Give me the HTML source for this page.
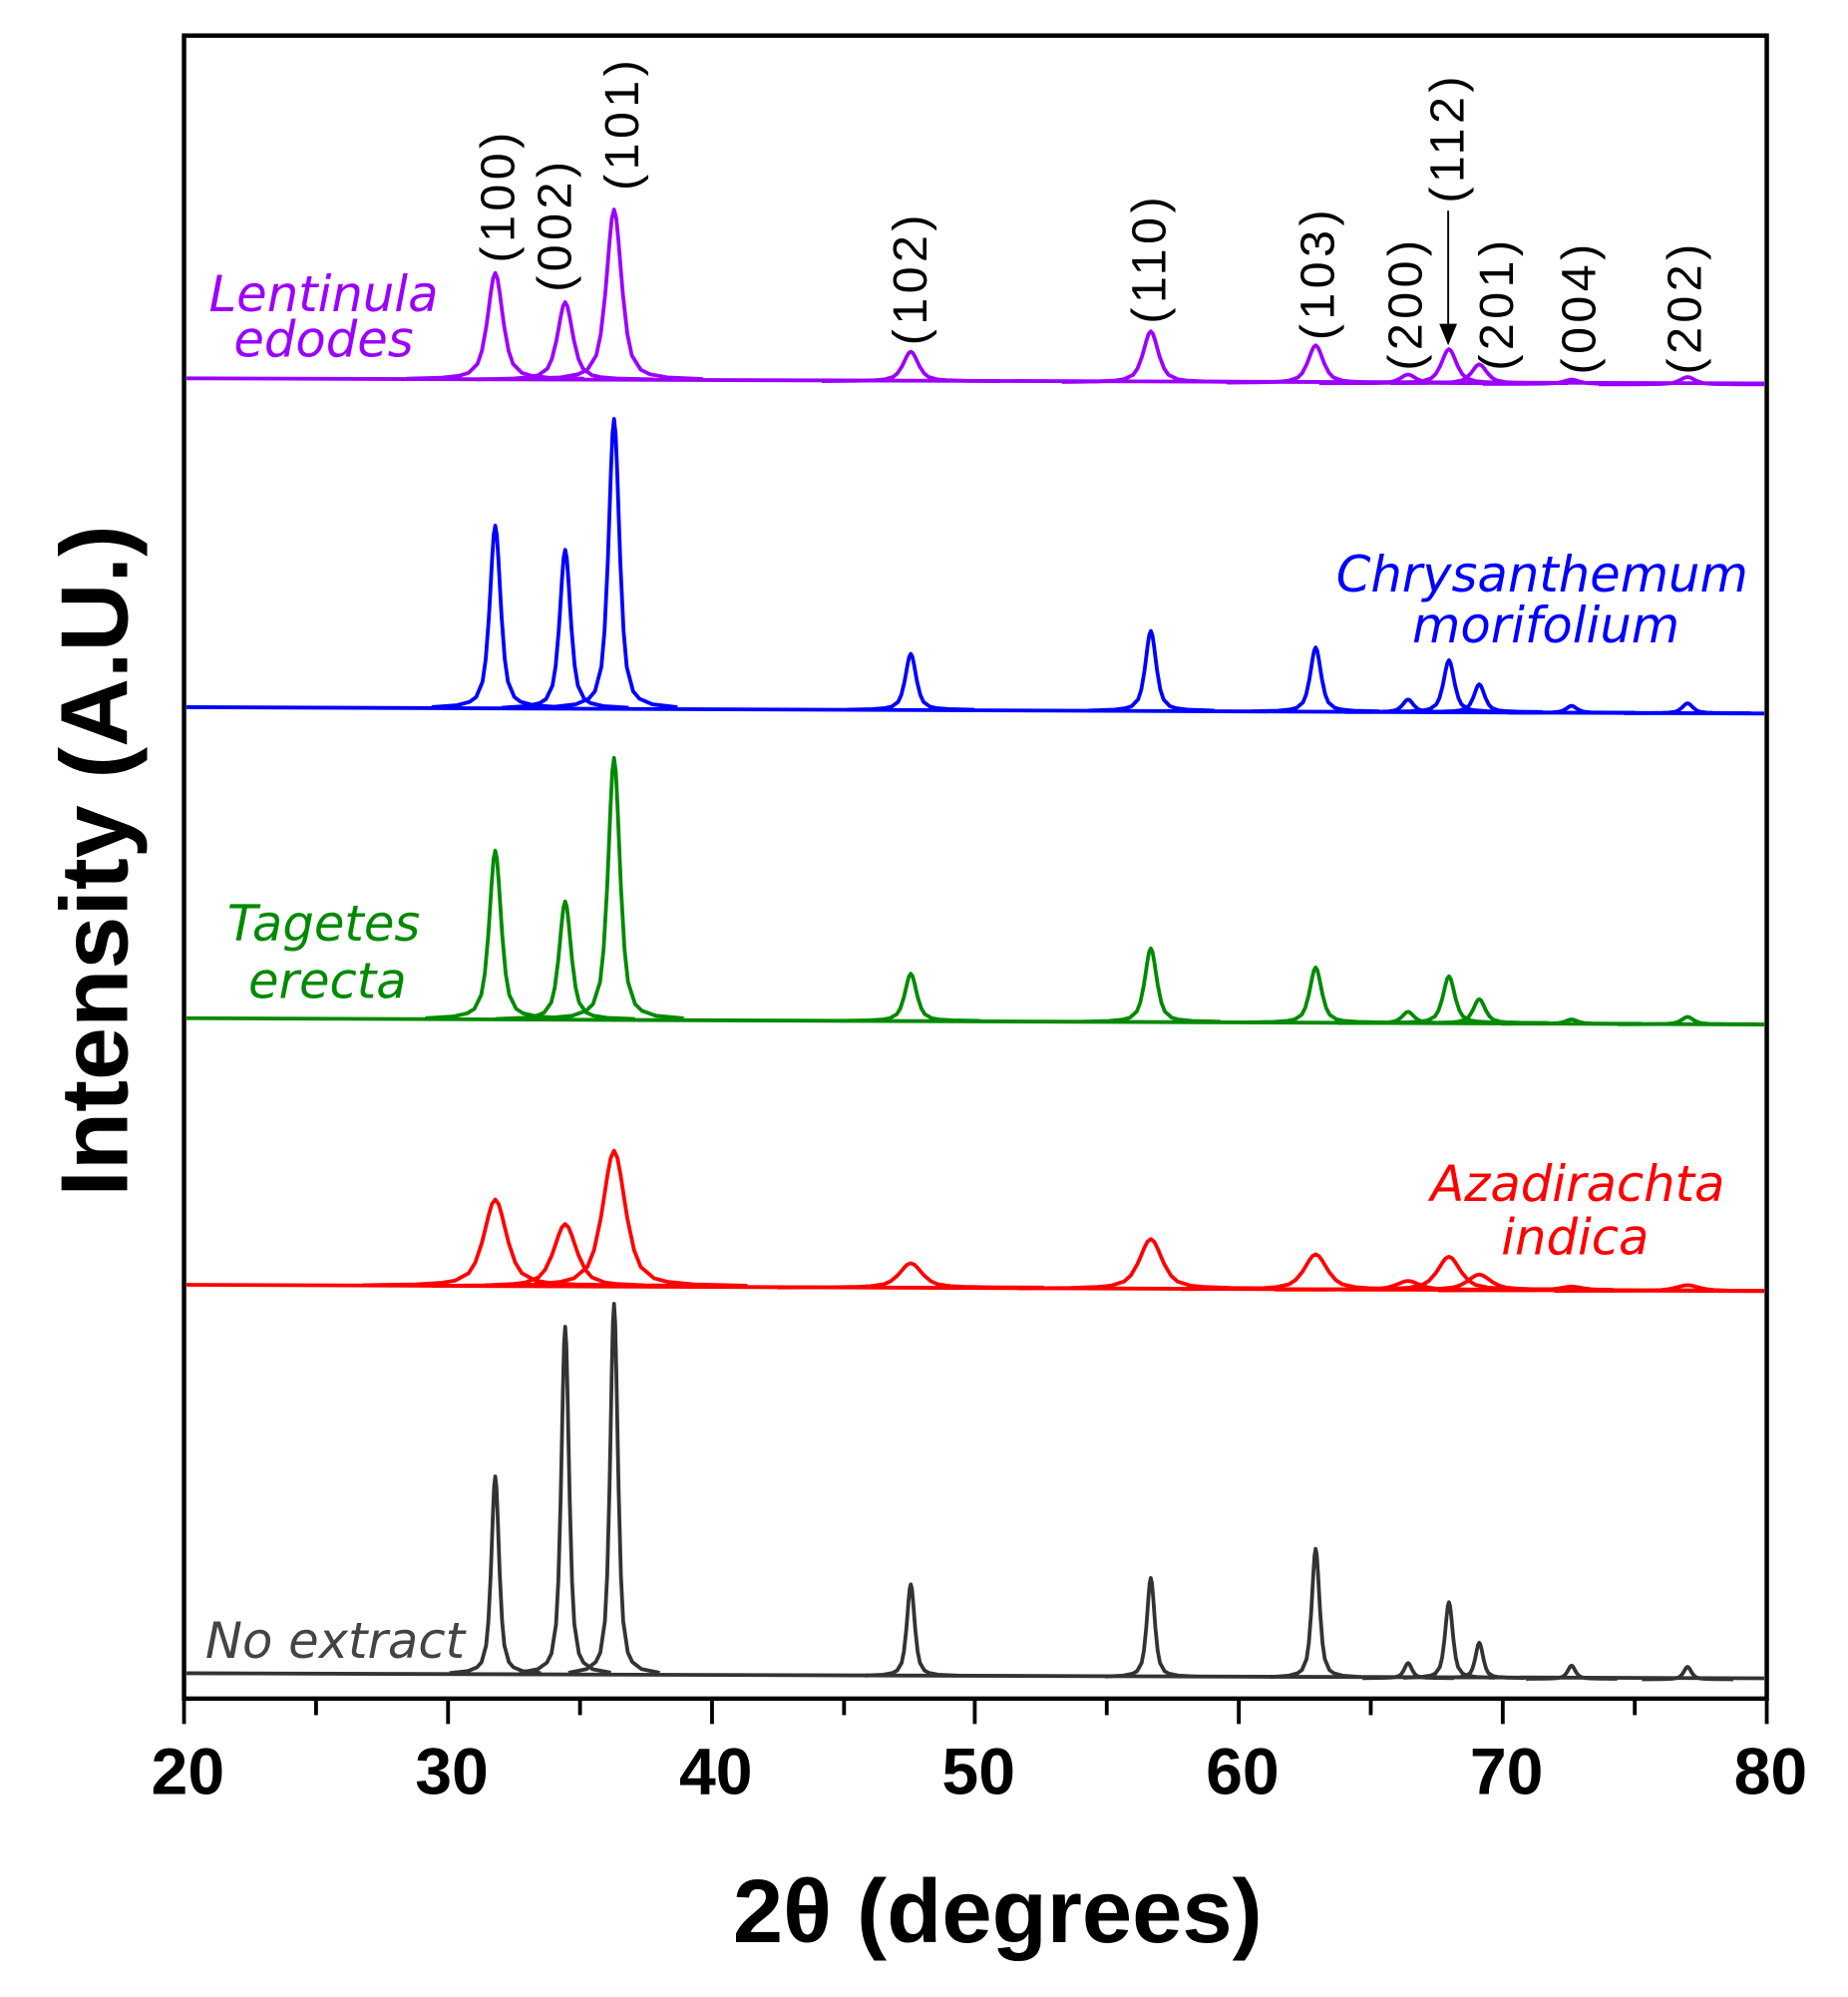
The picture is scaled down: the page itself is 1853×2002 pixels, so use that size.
<!DOCTYPE html>
<html><head><meta charset="utf-8"><style>
html,body{margin:0;padding:0;background:#fff;}
svg{display:block;}
path.p{fill:none;stroke-width:3.8;stroke-linejoin:round;}
</style></head><body>
<svg width="1853" height="2002" viewBox="0 0 1456 1573" xmlns="http://www.w3.org/2000/svg">
<defs><clipPath id="cp"><rect x="147" y="30" width="1243" height="1306"/></clipPath></defs>
<rect x="0" y="0" width="1456" height="1573" fill="#fff"/>
<g clip-path="url(#cp)">
<g fill="none" stroke-width="3">
<line x1="146" y1="298" x2="1391" y2="302" stroke="#9b00ff"/>
<line x1="146" y1="557" x2="1391" y2="562" stroke="#0000ff"/>
<line x1="146" y1="802" x2="1391" y2="807" stroke="#008a00"/>
<line x1="146" y1="1012" x2="1391" y2="1017" stroke="#ff0000"/>
<line x1="146" y1="1318" x2="1391" y2="1322" stroke="#333333"/>
</g>
<g stroke="#9b00ff">
<path class="p" vector-effect="non-scaling-stroke" transform="translate(390.2,298.8) scale(7,83.8)" d="M-10,-.006L-6,-.016L-4,-.035L-3,-.061L-2,-.145L-1.5,-.269L-1,-.5L-.75,-.655L-.5,-.816L-.25,-.948L0,-1L.25,-.948L.5,-.816L.75,-.655L1,-.5L1.5,-.269L2,-.145L3,-.061L4,-.035L6,-.016L10,-.006"/>
<path class="p" vector-effect="non-scaling-stroke" transform="translate(445.3,299.2) scale(7,61.2)" d="M-10,-.006L-6,-.016L-4,-.035L-3,-.061L-2,-.145L-1.5,-.269L-1,-.5L-.75,-.655L-.5,-.816L-.25,-.948L0,-1L.25,-.948L.5,-.816L.75,-.655L1,-.5L1.5,-.269L2,-.145L3,-.061L4,-.035L6,-.016L10,-.006"/>
<path class="p" vector-effect="non-scaling-stroke" transform="translate(483.8,299.4) scale(7,134.4)" d="M-10,-.006L-6,-.016L-4,-.035L-3,-.061L-2,-.145L-1.5,-.269L-1,-.5L-.75,-.655L-.5,-.816L-.25,-.948L0,-1L.25,-.948L.5,-.816L.75,-.655L1,-.5L1.5,-.269L2,-.145L3,-.061L4,-.035L6,-.016L10,-.006"/>
<path class="p" vector-effect="non-scaling-stroke" transform="translate(717.6,300.3) scale(7,23.3)" d="M-10,-.006L-6,-.016L-4,-.035L-3,-.061L-2,-.145L-1.5,-.269L-1,-.5L-.75,-.655L-.5,-.816L-.25,-.948L0,-1L.25,-.948L.5,-.816L.75,-.655L1,-.5L1.5,-.269L2,-.145L3,-.061L4,-.035L6,-.016L10,-.006"/>
<path class="p" vector-effect="non-scaling-stroke" transform="translate(906.7,301.1) scale(7,40.1)" d="M-10,-.006L-6,-.016L-4,-.035L-3,-.061L-2,-.145L-1.5,-.269L-1,-.5L-.75,-.655L-.5,-.816L-.25,-.948L0,-1L.25,-.948L.5,-.816L.75,-.655L1,-.5L1.5,-.269L2,-.145L3,-.061L4,-.035L6,-.016L10,-.006"/>
<path class="p" vector-effect="non-scaling-stroke" transform="translate(1036.6,301.6) scale(7,29.6)" d="M-10,-.006L-6,-.016L-4,-.035L-3,-.061L-2,-.145L-1.5,-.269L-1,-.5L-.75,-.655L-.5,-.816L-.25,-.948L0,-1L.25,-.948L.5,-.816L.75,-.655L1,-.5L1.5,-.269L2,-.145L3,-.061L4,-.035L6,-.016L10,-.006"/>
<path class="p" vector-effect="non-scaling-stroke" transform="translate(1109.4,301.9) scale(7,6.9)" d="M-10,-.006L-6,-.016L-4,-.035L-3,-.061L-2,-.145L-1.5,-.269L-1,-.5L-.75,-.655L-.5,-.816L-.25,-.948L0,-1L.25,-.948L.5,-.816L.75,-.655L1,-.5L1.5,-.269L2,-.145L3,-.061L4,-.035L6,-.016L10,-.006"/>
<path class="p" vector-effect="non-scaling-stroke" transform="translate(1141.6,301.9) scale(7,26.9)" d="M-10,-.006L-6,-.016L-4,-.035L-3,-.061L-2,-.145L-1.5,-.269L-1,-.5L-.75,-.655L-.5,-.816L-.25,-.948L0,-1L.25,-.948L.5,-.816L.75,-.655L1,-.5L1.5,-.269L2,-.145L3,-.061L4,-.035L6,-.016L10,-.006"/>
<path class="p" vector-effect="non-scaling-stroke" transform="translate(1165.5,301.9) scale(7,14.9)" d="M-10,-.006L-6,-.016L-4,-.035L-3,-.061L-2,-.145L-1.5,-.269L-1,-.5L-.75,-.655L-.5,-.816L-.25,-.948L0,-1L.25,-.948L.5,-.816L.75,-.655L1,-.5L1.5,-.269L2,-.145L3,-.061L4,-.035L6,-.016L10,-.006"/>
<path class="p" vector-effect="non-scaling-stroke" transform="translate(1238.2,302.4) scale(7,3.4)" d="M-10,-.006L-6,-.016L-4,-.035L-3,-.061L-2,-.145L-1.5,-.269L-1,-.5L-.75,-.655L-.5,-.816L-.25,-.948L0,-1L.25,-.948L.5,-.816L.75,-.655L1,-.5L1.5,-.269L2,-.145L3,-.061L4,-.035L6,-.016L10,-.006"/>
<path class="p" vector-effect="non-scaling-stroke" transform="translate(1329.6,302.8) scale(7,5.8)" d="M-10,-.006L-6,-.016L-4,-.035L-3,-.061L-2,-.145L-1.5,-.269L-1,-.5L-.75,-.655L-.5,-.816L-.25,-.948L0,-1L.25,-.948L.5,-.816L.75,-.655L1,-.5L1.5,-.269L2,-.145L3,-.061L4,-.035L6,-.016L10,-.006"/>
</g>
<g stroke="#0000ff">
<path class="p" vector-effect="non-scaling-stroke" transform="translate(390.2,557.8) scale(5,143.8)" d="M-10,-.006L-6,-.016L-4,-.035L-3,-.061L-2,-.145L-1.5,-.269L-1,-.5L-.75,-.655L-.5,-.816L-.25,-.948L0,-1L.25,-.948L.5,-.816L.75,-.655L1,-.5L1.5,-.269L2,-.145L3,-.061L4,-.035L6,-.016L10,-.006"/>
<path class="p" vector-effect="non-scaling-stroke" transform="translate(445.3,558.2) scale(5,125.2)" d="M-10,-.006L-6,-.016L-4,-.035L-3,-.061L-2,-.145L-1.5,-.269L-1,-.5L-.75,-.655L-.5,-.816L-.25,-.948L0,-1L.25,-.948L.5,-.816L.75,-.655L1,-.5L1.5,-.269L2,-.145L3,-.061L4,-.035L6,-.016L10,-.006"/>
<path class="p" vector-effect="non-scaling-stroke" transform="translate(483.8,558.4) scale(5,228.4)" d="M-10,-.006L-6,-.016L-4,-.035L-3,-.061L-2,-.145L-1.5,-.269L-1,-.5L-.75,-.655L-.5,-.816L-.25,-.948L0,-1L.25,-.948L.5,-.816L.75,-.655L1,-.5L1.5,-.269L2,-.145L3,-.061L4,-.035L6,-.016L10,-.006"/>
<path class="p" vector-effect="non-scaling-stroke" transform="translate(717.6,559.3) scale(5,44.3)" d="M-10,-.006L-6,-.016L-4,-.035L-3,-.061L-2,-.145L-1.5,-.269L-1,-.5L-.75,-.655L-.5,-.816L-.25,-.948L0,-1L.25,-.948L.5,-.816L.75,-.655L1,-.5L1.5,-.269L2,-.145L3,-.061L4,-.035L6,-.016L10,-.006"/>
<path class="p" vector-effect="non-scaling-stroke" transform="translate(906.7,560.1) scale(5,63.1)" d="M-10,-.006L-6,-.016L-4,-.035L-3,-.061L-2,-.145L-1.5,-.269L-1,-.5L-.75,-.655L-.5,-.816L-.25,-.948L0,-1L.25,-.948L.5,-.816L.75,-.655L1,-.5L1.5,-.269L2,-.145L3,-.061L4,-.035L6,-.016L10,-.006"/>
<path class="p" vector-effect="non-scaling-stroke" transform="translate(1036.6,560.6) scale(5,50.6)" d="M-10,-.006L-6,-.016L-4,-.035L-3,-.061L-2,-.145L-1.5,-.269L-1,-.5L-.75,-.655L-.5,-.816L-.25,-.948L0,-1L.25,-.948L.5,-.816L.75,-.655L1,-.5L1.5,-.269L2,-.145L3,-.061L4,-.035L6,-.016L10,-.006"/>
<path class="p" vector-effect="non-scaling-stroke" transform="translate(1109.4,560.9) scale(5,9.9)" d="M-10,-.006L-6,-.016L-4,-.035L-3,-.061L-2,-.145L-1.5,-.269L-1,-.5L-.75,-.655L-.5,-.816L-.25,-.948L0,-1L.25,-.948L.5,-.816L.75,-.655L1,-.5L1.5,-.269L2,-.145L3,-.061L4,-.035L6,-.016L10,-.006"/>
<path class="p" vector-effect="non-scaling-stroke" transform="translate(1141.6,560.9) scale(5,40.9)" d="M-10,-.006L-6,-.016L-4,-.035L-3,-.061L-2,-.145L-1.5,-.269L-1,-.5L-.75,-.655L-.5,-.816L-.25,-.948L0,-1L.25,-.948L.5,-.816L.75,-.655L1,-.5L1.5,-.269L2,-.145L3,-.061L4,-.035L6,-.016L10,-.006"/>
<path class="p" vector-effect="non-scaling-stroke" transform="translate(1165.5,560.9) scale(5,21.9)" d="M-10,-.006L-6,-.016L-4,-.035L-3,-.061L-2,-.145L-1.5,-.269L-1,-.5L-.75,-.655L-.5,-.816L-.25,-.948L0,-1L.25,-.948L.5,-.816L.75,-.655L1,-.5L1.5,-.269L2,-.145L3,-.061L4,-.035L6,-.016L10,-.006"/>
<path class="p" vector-effect="non-scaling-stroke" transform="translate(1238.2,561.4) scale(5,5.4)" d="M-10,-.006L-6,-.016L-4,-.035L-3,-.061L-2,-.145L-1.5,-.269L-1,-.5L-.75,-.655L-.5,-.816L-.25,-.948L0,-1L.25,-.948L.5,-.816L.75,-.655L1,-.5L1.5,-.269L2,-.145L3,-.061L4,-.035L6,-.016L10,-.006"/>
<path class="p" vector-effect="non-scaling-stroke" transform="translate(1329.6,561.8) scale(5,7.8)" d="M-10,-.006L-6,-.016L-4,-.035L-3,-.061L-2,-.145L-1.5,-.269L-1,-.5L-.75,-.655L-.5,-.816L-.25,-.948L0,-1L.25,-.948L.5,-.816L.75,-.655L1,-.5L1.5,-.269L2,-.145L3,-.061L4,-.035L6,-.016L10,-.006"/>
</g>
<g stroke="#008a00">
<path class="p" vector-effect="non-scaling-stroke" transform="translate(390.2,802.8) scale(5.5,132.8)" d="M-10,-.006L-6,-.016L-4,-.035L-3,-.061L-2,-.145L-1.5,-.269L-1,-.5L-.75,-.655L-.5,-.816L-.25,-.948L0,-1L.25,-.948L.5,-.816L.75,-.655L1,-.5L1.5,-.269L2,-.145L3,-.061L4,-.035L6,-.016L10,-.006"/>
<path class="p" vector-effect="non-scaling-stroke" transform="translate(445.3,803.2) scale(5.5,93.2)" d="M-10,-.006L-6,-.016L-4,-.035L-3,-.061L-2,-.145L-1.5,-.269L-1,-.5L-.75,-.655L-.5,-.816L-.25,-.948L0,-1L.25,-.948L.5,-.816L.75,-.655L1,-.5L1.5,-.269L2,-.145L3,-.061L4,-.035L6,-.016L10,-.006"/>
<path class="p" vector-effect="non-scaling-stroke" transform="translate(483.8,803.4) scale(5.5,206.4)" d="M-10,-.006L-6,-.016L-4,-.035L-3,-.061L-2,-.145L-1.5,-.269L-1,-.5L-.75,-.655L-.5,-.816L-.25,-.948L0,-1L.25,-.948L.5,-.816L.75,-.655L1,-.5L1.5,-.269L2,-.145L3,-.061L4,-.035L6,-.016L10,-.006"/>
<path class="p" vector-effect="non-scaling-stroke" transform="translate(717.6,804.3) scale(5.5,37.3)" d="M-10,-.006L-6,-.016L-4,-.035L-3,-.061L-2,-.145L-1.5,-.269L-1,-.5L-.75,-.655L-.5,-.816L-.25,-.948L0,-1L.25,-.948L.5,-.816L.75,-.655L1,-.5L1.5,-.269L2,-.145L3,-.061L4,-.035L6,-.016L10,-.006"/>
<path class="p" vector-effect="non-scaling-stroke" transform="translate(906.7,805.1) scale(5.5,58.1)" d="M-10,-.006L-6,-.016L-4,-.035L-3,-.061L-2,-.145L-1.5,-.269L-1,-.5L-.75,-.655L-.5,-.816L-.25,-.948L0,-1L.25,-.948L.5,-.816L.75,-.655L1,-.5L1.5,-.269L2,-.145L3,-.061L4,-.035L6,-.016L10,-.006"/>
<path class="p" vector-effect="non-scaling-stroke" transform="translate(1036.6,805.6) scale(5.5,43.6)" d="M-10,-.006L-6,-.016L-4,-.035L-3,-.061L-2,-.145L-1.5,-.269L-1,-.5L-.75,-.655L-.5,-.816L-.25,-.948L0,-1L.25,-.948L.5,-.816L.75,-.655L1,-.5L1.5,-.269L2,-.145L3,-.061L4,-.035L6,-.016L10,-.006"/>
<path class="p" vector-effect="non-scaling-stroke" transform="translate(1109.4,805.9) scale(5.5,8.9)" d="M-10,-.006L-6,-.016L-4,-.035L-3,-.061L-2,-.145L-1.5,-.269L-1,-.5L-.75,-.655L-.5,-.816L-.25,-.948L0,-1L.25,-.948L.5,-.816L.75,-.655L1,-.5L1.5,-.269L2,-.145L3,-.061L4,-.035L6,-.016L10,-.006"/>
<path class="p" vector-effect="non-scaling-stroke" transform="translate(1141.6,805.9) scale(5.5,36.9)" d="M-10,-.006L-6,-.016L-4,-.035L-3,-.061L-2,-.145L-1.5,-.269L-1,-.5L-.75,-.655L-.5,-.816L-.25,-.948L0,-1L.25,-.948L.5,-.816L.75,-.655L1,-.5L1.5,-.269L2,-.145L3,-.061L4,-.035L6,-.016L10,-.006"/>
<path class="p" vector-effect="non-scaling-stroke" transform="translate(1165.5,805.9) scale(5.5,18.9)" d="M-10,-.006L-6,-.016L-4,-.035L-3,-.061L-2,-.145L-1.5,-.269L-1,-.5L-.75,-.655L-.5,-.816L-.25,-.948L0,-1L.25,-.948L.5,-.816L.75,-.655L1,-.5L1.5,-.269L2,-.145L3,-.061L4,-.035L6,-.016L10,-.006"/>
<path class="p" vector-effect="non-scaling-stroke" transform="translate(1238.2,806.4) scale(5.5,3.4)" d="M-10,-.006L-6,-.016L-4,-.035L-3,-.061L-2,-.145L-1.5,-.269L-1,-.5L-.75,-.655L-.5,-.816L-.25,-.948L0,-1L.25,-.948L.5,-.816L.75,-.655L1,-.5L1.5,-.269L2,-.145L3,-.061L4,-.035L6,-.016L10,-.006"/>
<path class="p" vector-effect="non-scaling-stroke" transform="translate(1329.6,806.8) scale(5.5,5.8)" d="M-10,-.006L-6,-.016L-4,-.035L-3,-.061L-2,-.145L-1.5,-.269L-1,-.5L-.75,-.655L-.5,-.816L-.25,-.948L0,-1L.25,-.948L.5,-.816L.75,-.655L1,-.5L1.5,-.269L2,-.145L3,-.061L4,-.035L6,-.016L10,-.006"/>
</g>
<g stroke="#ff0000">
<path class="p" vector-effect="non-scaling-stroke" transform="translate(390.2,1012.8) scale(10.5,68)" d="M-10,-.006L-6,-.016L-4,-.035L-3,-.061L-2,-.145L-1.5,-.269L-1,-.5L-.75,-.655L-.5,-.816L-.25,-.948L0,-1L.25,-.948L.5,-.816L.75,-.655L1,-.5L1.5,-.269L2,-.145L3,-.061L4,-.035L6,-.016L10,-.006"/>
<path class="p" vector-effect="non-scaling-stroke" transform="translate(445.3,1013.2) scale(10.5,49)" d="M-10,-.006L-6,-.016L-4,-.035L-3,-.061L-2,-.145L-1.5,-.269L-1,-.5L-.75,-.655L-.5,-.816L-.25,-.948L0,-1L.25,-.948L.5,-.816L.75,-.655L1,-.5L1.5,-.269L2,-.145L3,-.061L4,-.035L6,-.016L10,-.006"/>
<path class="p" vector-effect="non-scaling-stroke" transform="translate(483.8,1013.4) scale(10.5,107)" d="M-10,-.006L-6,-.016L-4,-.035L-3,-.061L-2,-.145L-1.5,-.269L-1,-.5L-.75,-.655L-.5,-.816L-.25,-.948L0,-1L.25,-.948L.5,-.816L.75,-.655L1,-.5L1.5,-.269L2,-.145L3,-.061L4,-.035L6,-.016L10,-.006"/>
<path class="p" vector-effect="non-scaling-stroke" transform="translate(717.6,1014.3) scale(10.5,19.3)" d="M-10,-.006L-6,-.016L-4,-.035L-3,-.061L-2,-.145L-1.5,-.269L-1,-.5L-.75,-.655L-.5,-.816L-.25,-.948L0,-1L.25,-.948L.5,-.816L.75,-.655L1,-.5L1.5,-.269L2,-.145L3,-.061L4,-.035L6,-.016L10,-.006"/>
<path class="p" vector-effect="non-scaling-stroke" transform="translate(906.7,1015.1) scale(10.5,39.1)" d="M-10,-.006L-6,-.016L-4,-.035L-3,-.061L-2,-.145L-1.5,-.269L-1,-.5L-.75,-.655L-.5,-.816L-.25,-.948L0,-1L.25,-.948L.5,-.816L.75,-.655L1,-.5L1.5,-.269L2,-.145L3,-.061L4,-.035L6,-.016L10,-.006"/>
<path class="p" vector-effect="non-scaling-stroke" transform="translate(1036.6,1015.6) scale(10.5,27.6)" d="M-10,-.006L-6,-.016L-4,-.035L-3,-.061L-2,-.145L-1.5,-.269L-1,-.5L-.75,-.655L-.5,-.816L-.25,-.948L0,-1L.25,-.948L.5,-.816L.75,-.655L1,-.5L1.5,-.269L2,-.145L3,-.061L4,-.035L6,-.016L10,-.006"/>
<path class="p" vector-effect="non-scaling-stroke" transform="translate(1109.4,1015.9) scale(10.5,6.9)" d="M-10,-.006L-6,-.016L-4,-.035L-3,-.061L-2,-.145L-1.5,-.269L-1,-.5L-.75,-.655L-.5,-.816L-.25,-.948L0,-1L.25,-.948L.5,-.816L.75,-.655L1,-.5L1.5,-.269L2,-.145L3,-.061L4,-.035L6,-.016L10,-.006"/>
<path class="p" vector-effect="non-scaling-stroke" transform="translate(1141.6,1015.9) scale(10.5,26)" d="M-10,-.006L-6,-.016L-4,-.035L-3,-.061L-2,-.145L-1.5,-.269L-1,-.5L-.75,-.655L-.5,-.816L-.25,-.948L0,-1L.25,-.948L.5,-.816L.75,-.655L1,-.5L1.5,-.269L2,-.145L3,-.061L4,-.035L6,-.016L10,-.006"/>
<path class="p" vector-effect="non-scaling-stroke" transform="translate(1165.5,1015.9) scale(10.5,12)" d="M-10,-.006L-6,-.016L-4,-.035L-3,-.061L-2,-.145L-1.5,-.269L-1,-.5L-.75,-.655L-.5,-.816L-.25,-.948L0,-1L.25,-.948L.5,-.816L.75,-.655L1,-.5L1.5,-.269L2,-.145L3,-.061L4,-.035L6,-.016L10,-.006"/>
<path class="p" vector-effect="non-scaling-stroke" transform="translate(1238.2,1016.4) scale(10.5,3)" d="M-10,-.006L-6,-.016L-4,-.035L-3,-.061L-2,-.145L-1.5,-.269L-1,-.5L-.75,-.655L-.5,-.816L-.25,-.948L0,-1L.25,-.948L.5,-.816L.75,-.655L1,-.5L1.5,-.269L2,-.145L3,-.061L4,-.035L6,-.016L10,-.006"/>
<path class="p" vector-effect="non-scaling-stroke" transform="translate(1329.6,1016.8) scale(10.5,4.5)" d="M-10,-.006L-6,-.016L-4,-.035L-3,-.061L-2,-.145L-1.5,-.269L-1,-.5L-.75,-.655L-.5,-.816L-.25,-.948L0,-1L.25,-.948L.5,-.816L.75,-.655L1,-.5L1.5,-.269L2,-.145L3,-.061L4,-.035L6,-.016L10,-.006"/>
</g>
<g stroke="#333333">
<path class="p" vector-effect="non-scaling-stroke" transform="translate(390.2,1318.8) scale(3.6,155.8)" d="M-10,-.006L-6,-.016L-4,-.035L-3,-.061L-2,-.145L-1.5,-.269L-1,-.5L-.75,-.655L-.5,-.816L-.25,-.948L0,-1L.25,-.948L.5,-.816L.75,-.655L1,-.5L1.5,-.269L2,-.145L3,-.061L4,-.035L6,-.016L10,-.006"/>
<path class="p" vector-effect="non-scaling-stroke" transform="translate(445.3,1319.2) scale(3.6,274.2)" d="M-10,-.006L-6,-.016L-4,-.035L-3,-.061L-2,-.145L-1.5,-.269L-1,-.5L-.75,-.655L-.5,-.816L-.25,-.948L0,-1L.25,-.948L.5,-.816L.75,-.655L1,-.5L1.5,-.269L2,-.145L3,-.061L4,-.035L6,-.016L10,-.006"/>
<path class="p" vector-effect="non-scaling-stroke" transform="translate(483.8,1319.4) scale(3.6,292.4)" d="M-10,-.006L-6,-.016L-4,-.035L-3,-.061L-2,-.145L-1.5,-.269L-1,-.5L-.75,-.655L-.5,-.816L-.25,-.948L0,-1L.25,-.948L.5,-.816L.75,-.655L1,-.5L1.5,-.269L2,-.145L3,-.061L4,-.035L6,-.016L10,-.006"/>
<path class="p" vector-effect="non-scaling-stroke" transform="translate(717.6,1320.3) scale(3.6,72.3)" d="M-10,-.006L-6,-.016L-4,-.035L-3,-.061L-2,-.145L-1.5,-.269L-1,-.5L-.75,-.655L-.5,-.816L-.25,-.948L0,-1L.25,-.948L.5,-.816L.75,-.655L1,-.5L1.5,-.269L2,-.145L3,-.061L4,-.035L6,-.016L10,-.006"/>
<path class="p" vector-effect="non-scaling-stroke" transform="translate(906.7,1321.1) scale(3.6,78.1)" d="M-10,-.006L-6,-.016L-4,-.035L-3,-.061L-2,-.145L-1.5,-.269L-1,-.5L-.75,-.655L-.5,-.816L-.25,-.948L0,-1L.25,-.948L.5,-.816L.75,-.655L1,-.5L1.5,-.269L2,-.145L3,-.061L4,-.035L6,-.016L10,-.006"/>
<path class="p" vector-effect="non-scaling-stroke" transform="translate(1036.6,1321.6) scale(3.6,101.6)" d="M-10,-.006L-6,-.016L-4,-.035L-3,-.061L-2,-.145L-1.5,-.269L-1,-.5L-.75,-.655L-.5,-.816L-.25,-.948L0,-1L.25,-.948L.5,-.816L.75,-.655L1,-.5L1.5,-.269L2,-.145L3,-.061L4,-.035L6,-.016L10,-.006"/>
<path class="p" vector-effect="non-scaling-stroke" transform="translate(1109.4,1321.9) scale(3.6,11.9)" d="M-10,-.006L-6,-.016L-4,-.035L-3,-.061L-2,-.145L-1.5,-.269L-1,-.5L-.75,-.655L-.5,-.816L-.25,-.948L0,-1L.25,-.948L.5,-.816L.75,-.655L1,-.5L1.5,-.269L2,-.145L3,-.061L4,-.035L6,-.016L10,-.006"/>
<path class="p" vector-effect="non-scaling-stroke" transform="translate(1141.6,1321.9) scale(3.6,59.9)" d="M-10,-.006L-6,-.016L-4,-.035L-3,-.061L-2,-.145L-1.5,-.269L-1,-.5L-.75,-.655L-.5,-.816L-.25,-.948L0,-1L.25,-.948L.5,-.816L.75,-.655L1,-.5L1.5,-.269L2,-.145L3,-.061L4,-.035L6,-.016L10,-.006"/>
<path class="p" vector-effect="non-scaling-stroke" transform="translate(1165.5,1321.9) scale(3.6,27.9)" d="M-10,-.006L-6,-.016L-4,-.035L-3,-.061L-2,-.145L-1.5,-.269L-1,-.5L-.75,-.655L-.5,-.816L-.25,-.948L0,-1L.25,-.948L.5,-.816L.75,-.655L1,-.5L1.5,-.269L2,-.145L3,-.061L4,-.035L6,-.016L10,-.006"/>
<path class="p" vector-effect="non-scaling-stroke" transform="translate(1238.2,1322.4) scale(3.6,10.4)" d="M-10,-.006L-6,-.016L-4,-.035L-3,-.061L-2,-.145L-1.5,-.269L-1,-.5L-.75,-.655L-.5,-.816L-.25,-.948L0,-1L.25,-.948L.5,-.816L.75,-.655L1,-.5L1.5,-.269L2,-.145L3,-.061L4,-.035L6,-.016L10,-.006"/>
<path class="p" vector-effect="non-scaling-stroke" transform="translate(1329.6,1322.8) scale(3.6,9.8)" d="M-10,-.006L-6,-.016L-4,-.035L-3,-.061L-2,-.145L-1.5,-.269L-1,-.5L-.75,-.655L-.5,-.816L-.25,-.948L0,-1L.25,-.948L.5,-.816L.75,-.655L1,-.5L1.5,-.269L2,-.145L3,-.061L4,-.035L6,-.016L10,-.006"/>
</g>
</g>
<rect x="145" y="28" width="1247" height="1310" fill="none" stroke="#000" stroke-width="3.5"/>
<g stroke="#000" stroke-width="3">
<line x1="145" y1="1338" x2="145" y2="1358"/><line x1="249" y1="1338" x2="249" y2="1351"/>
<line x1="353" y1="1338" x2="353" y2="1358"/><line x1="457" y1="1338" x2="457" y2="1351"/>
<line x1="561" y1="1338" x2="561" y2="1358"/><line x1="665" y1="1338" x2="665" y2="1351"/>
<line x1="768" y1="1338" x2="768" y2="1358"/><line x1="872" y1="1338" x2="872" y2="1351"/>
<line x1="976" y1="1338" x2="976" y2="1358"/><line x1="1080" y1="1338" x2="1080" y2="1351"/>
<line x1="1184" y1="1338" x2="1184" y2="1358"/><line x1="1288" y1="1338" x2="1288" y2="1351"/>
<line x1="1392" y1="1338" x2="1392" y2="1358"/>
</g>
<g font-family="'Liberation Sans',Arial,sans-serif" font-weight="bold" font-size="52" text-anchor="middle" fill="#000">
<text x="148" y="1413">20</text><text x="356" y="1413">30</text><text x="564" y="1413">40</text>
<text x="771" y="1413">50</text><text x="979" y="1413">60</text><text x="1187" y="1413">70</text><text x="1395" y="1413">80</text>
<text x="786" y="1530" font-size="71">2θ (degrees)</text>
<text transform="translate(100,678) rotate(-90)" font-size="75">Intensity (A.U.)</text>
</g>
<g font-family="'DejaVu Sans',Verdana,sans-serif" font-style="italic" font-size="39" text-anchor="middle">
<text x="255" y="245" fill="#9b00ff">Lentinula</text><text x="255" y="281" fill="#9b00ff">edodes</text>
<text x="1215" y="466" fill="#0000ff">Chrysanthemum</text><text x="1218" y="506" fill="#0000ff">morifolium</text>
<text x="255" y="741" fill="#008a00">Tagetes</text><text x="258" y="786" fill="#008a00">erecta</text>
<text x="1243" y="946" fill="#ff0000">Azadirachta</text><text x="1241" y="988" fill="#ff0000">indica</text>
<text x="264" y="1306" fill="#444">No extract</text>
</g>
<g font-family="'Liberation Sans',Arial,sans-serif" font-size="38" letter-spacing="3.5" fill="#000">
<text transform="translate(405,207) rotate(-90)">(100)</text>
<text transform="translate(450,230) rotate(-90)">(002)</text>
<text transform="translate(503,150) rotate(-90)">(101)</text>
<text transform="translate(730,272) rotate(-90)">(102)</text>
<text transform="translate(918,255) rotate(-90)">(110)</text>
<text transform="translate(1051,268) rotate(-90)">(103)</text>
<text transform="translate(1120,292) rotate(-90)">(200)</text>
<text transform="translate(1153,160) rotate(-90)">(112)</text>
<text transform="translate(1192,292) rotate(-90)">(201)</text>
<text transform="translate(1257,295) rotate(-90)">(004)</text>
<text transform="translate(1340,295) rotate(-90)">(202)</text>
</g>
<line x1="1141" y1="166" x2="1141" y2="258" stroke="#000" stroke-width="1.5"/>
<polygon points="1134,255 1148,255 1141,272" fill="#000"/>
</svg>
</body></html>
